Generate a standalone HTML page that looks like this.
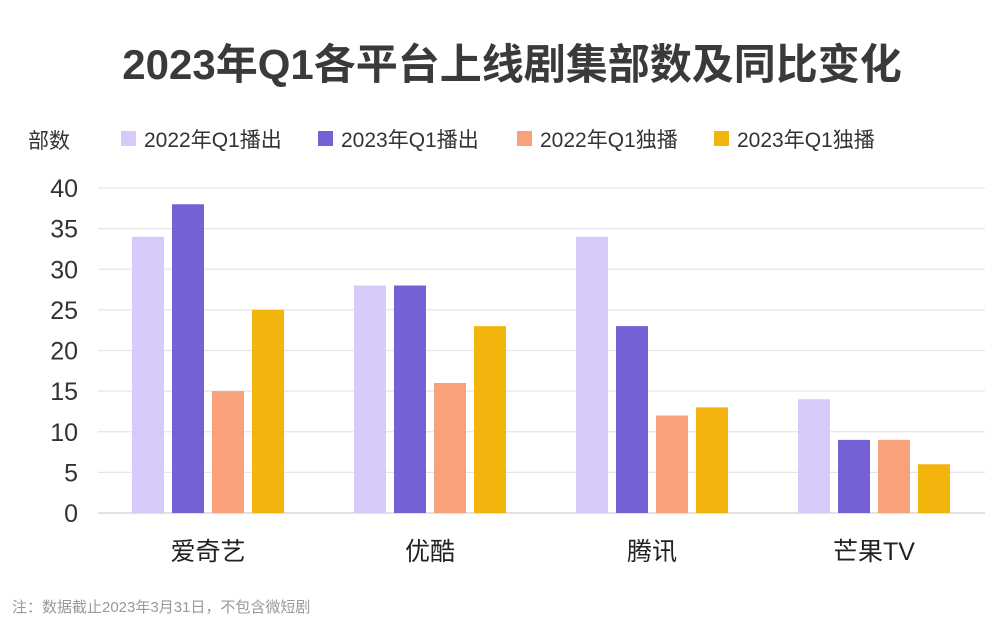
<!DOCTYPE html>
<html><head><meta charset="utf-8">
<style>
body{margin:0;background:#fff;width:1000px;height:633px;overflow:hidden;font-family:"Liberation Sans","Noto Sans CJK SC",sans-serif;}
</style></head>
<body>
<svg id="chart" width="1000" height="633" xmlns="http://www.w3.org/2000/svg" font-family="Liberation Sans, Noto Sans CJK SC, sans-serif">
<text x="512" y="79" text-anchor="middle" font-size="42" font-weight="bold" fill="#3a3a3a">2023年Q1各平台上线剧集部数及同比变化</text>
<text x="28" y="148" font-size="21" fill="#333">部数</text>
<g id="legend"></g>
<g id="grid"></g>
<g id="bars"></g>
<g id="xlabels"></g>
<text x="12" y="612" font-size="15" fill="#999">注：数据截止2023年3月31日，不包含微短剧</text>
</svg>
<script>
const categories=["爱奇艺","优酷","腾讯","芒果TV"];
const seriesNames=["2022年Q1播出","2023年Q1播出","2022年Q1独播","2023年Q1独播"];
const s2022Air=[34,28,34,14];
const s2023Air=[38,28,23,9];
const s2022Excl=[15,16,12,9];
const s2023Excl=[25,23,13,6];
const yTicks=[0,5,10,15,20,25,30,35,40];
const colors=["#d8c9fb","#7560d6","#f9a07c","#f4b40e"];
const series=[s2022Air,s2023Air,s2022Excl,s2023Excl];
const NS="http://www.w3.org/2000/svg";
const y=v=>513-v*8.125;
const groupX=i=>132+i*222;
function mk(t,a,p){const e=document.createElementNS(NS,t);for(const k in a)e.setAttribute(k,a[k]);p.appendChild(e);return e;}
const grid=document.getElementById('grid');
yTicks.forEach(t=>{
  const l=mk('line',{x1:98,x2:985,y1:y(t),y2:y(t),stroke:t===0?'#d0d0d0':'#e6e6e6','stroke-width':1.3},grid);
  
  
  const tx=mk('text',{x:78,y:y(t)+9,'text-anchor':'end','font-size':25,fill:'#333'},grid);
  tx.textContent=t;
  
  
});
const bars=document.getElementById('bars');
series.forEach((s,si)=>s.forEach((v,ci)=>{
  const r=mk('rect',{x:groupX(ci)+si*40,y:y(v),width:32,height:513-y(v),fill:colors[si]},bars);
  
  
}));
const xl=document.getElementById('xlabels');
categories.forEach((c,i)=>{
  const t=mk('text',{x:groupX(i)+76,y:560,'text-anchor':'middle','font-size':25,fill:'#222'},xl);
  t.textContent=c;
  
  
});
const lg=document.getElementById('legend');
const lx=[121,318,517,714];
seriesNames.forEach((n,i)=>{
  const r=mk('rect',{x:lx[i],y:131,width:15,height:15,fill:colors[i]},lg);
  
  
  const t=mk('text',{x:lx[i]+23,y:147,'font-size':21,fill:'#333'},lg);
  t.textContent=n;
  
  
});
</script>
</body></html>
